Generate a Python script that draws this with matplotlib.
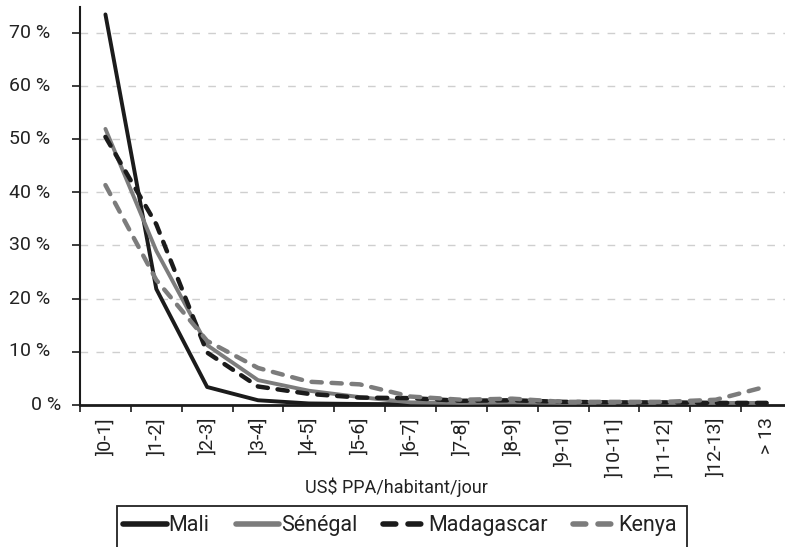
import matplotlib
matplotlib.use("Agg")
import matplotlib.pyplot as plt
from matplotlib.patches import Rectangle
import numpy as np

categories = [']0-1]', ']1-2]', ']2-3]', ']3-4]', ']4-5]', ']5-6]', ']6-7]',
              ']7-8]', ']8-9]', ']9-10]', ']10-11]', ']11-12]', ']12-13]', '> 13']
mali = [73.6, 21.8, 3.3, 0.8, 0.2, 0.1, 0.05, 0, 0, 0, 0, 0, 0, 0]
senegal = [52.0, 29.0, 11.2, 4.6, 2.6, 1.4, 0.4, 0.3, 0.4, 0.3, 0.3, 0.3, 0.3, 0.3]
madagascar = [50.5, 34.0, 9.8, 3.4, 2.0, 1.3, 1.2, 0.7, 0.8, 0.5, 0.4, 0.4, 0.3, 0.3]
kenya = [41.4, 23.5, 12.0, 6.9, 4.3, 3.8, 1.5, 0.9, 1.1, 0.5, 0.5, 0.5, 0.9, 3.4]
series_names = ['Mali', 'Sénégal', 'Madagascar', 'Kenya']
yticks = [0, 10, 20, 30, 40, 50, 60, 70]
xlabel = 'US$ PPA/habitant/jour'

plt.rcParams['font.family'] = ['Roboto', 'DejaVu Sans']

W, H = 785, 547
fig = plt.figure(figsize=(W / 100, H / 100), dpi=100)
left, right, bottom, top = 80, 792, 404.5, 7
ax = fig.add_axes([left / W, 1 - bottom / H, (right - left) / W, (bottom - top) / H])

x = np.arange(len(categories)) + 0.5
dark = '#1b1b1b'
grey = '#7c7c7c'
txt = '#222222'
dash = (0, (2.3, 2.2))
ax.plot(x, mali, color=dark, lw=2.8, solid_capstyle='round', solid_joinstyle='round',
        label=series_names[0], zorder=3)
ax.plot(x, senegal, color=grey, lw=2.8, solid_capstyle='round', solid_joinstyle='round',
        label=series_names[1], zorder=3)
ax.plot(x, madagascar, color=dark, lw=3.2, linestyle=dash, dash_capstyle='round',
        label=series_names[2], zorder=3)
ax.plot(x, kenya, color=grey, lw=3.2, linestyle=dash, dash_capstyle='round',
        label=series_names[3], zorder=3)

ax.set_xlim(0, len(categories))
ax.set_ylim(0, 75)

# y axis: ticks, with labels placed like the original (the "0 %" label sits further right)
ax.set_yticks(yticks)
ax.set_yticklabels([])
ax.tick_params(axis='y', length=6, width=1.2, direction='out', color=dark)
yt = ax.get_yaxis_transform()
for v in yticks:
    xpos = (61 - left) / (right - left) if v == 0 else (50 - left) / (right - left)
    ax.text(xpos, v, f'{v} %', transform=yt, ha='right', va='center',
            fontsize=14, color=txt)

# x axis: ticks between categories, labels centred on categories
ax.set_xticks(np.arange(len(categories) + 1))
ax.set_xticklabels([])
ax.set_xticks(x, minor=True)
ax.set_xticklabels(categories, minor=True, rotation=90, fontsize=14, color=txt,
                   va='top', ha='center')
ax.tick_params(axis='x', which='minor', length=0, pad=9)
ax.tick_params(axis='x', which='major', length=5, width=1.2, direction='out', color=dark)

for s in ['top', 'right']:
    ax.spines[s].set_visible(False)
ax.spines['left'].set_linewidth(1.5)
ax.spines['bottom'].set_linewidth(2.0)
ax.spines['left'].set_color(dark)
ax.spines['bottom'].set_color(dark)
for v in yticks[1:]:
    ax.axhline(v, color='#cfcfcf', lw=1.0, linestyle=(0, (5.5, 6)), zorder=1)

fig.text(396 / W, 1 - 487 / H, xlabel, ha='center', va='center', fontsize=13, color=txt)

# legend box (its lower edge runs past the bottom of the picture, as in the original)
fig.add_artist(Rectangle((117 / W, -20 / H), (687 - 117) / W, (547 + 20 - 506) / H,
                         transform=fig.transFigure, facecolor='white',
                         edgecolor='#222222', lw=1.3, zorder=0))
leg = fig.legend(loc='upper left', bbox_to_anchor=(117 / W, 1 - 509 / H), ncol=4,
                 fontsize=15.5, frameon=False,
                 handlelength=2.0, handletextpad=0.1, columnspacing=1.2,
                 borderpad=0.3, borderaxespad=0)
for line in leg.get_lines():
    line.set_linewidth(4.0)
for t in leg.get_texts():
    t.set_color(txt)

fig.savefig('out.png', dpi=100)
